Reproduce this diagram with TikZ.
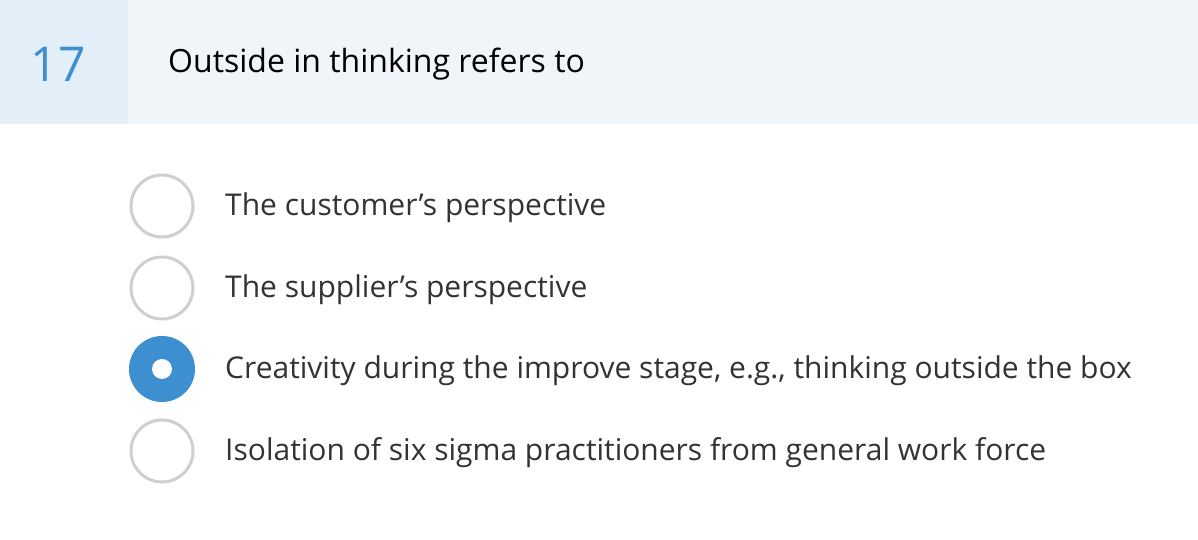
\documentclass[tikz,border=0pt]{standalone}
\usepackage{fontspec}
\setmainfont{Open Sans}
\definecolor{hdr}{HTML}{F0F5FA}
\definecolor{numbg}{HTML}{E2EEF8}
\definecolor{blue}{HTML}{3D8FD0}
\definecolor{ring}{HTML}{CFCFCF}
\definecolor{txt}{HTML}{333333}
\newcommand{\apos}{{\char"27}}
\begin{document}
\begin{tikzpicture}[x=1pt,y=1pt,
  opt/.style={circle,draw=ring,line width=3pt,minimum size=62pt,inner sep=0pt},
  sel/.style={circle,fill=blue,minimum size=66pt,inner sep=0pt},
  otext/.style={anchor=west,text=txt,font=\fontsize{30}{34}\selectfont,inner sep=0pt}]
\useasboundingbox (0,0) rectangle (1198,540);
\fill[white] (0,0) rectangle (1198,540);
\fill[hdr] (0,416) rectangle (1198,540);
\fill[numbg] (0,416) rectangle (128,540);
\node (num) at (58,476) {\fontsize{48}{52}\selectfont\color{blue}17};
\node[anchor=west,inner sep=0pt] (q) at (168,476) {\fontsize{32}{36}\selectfont Outside in thinking refers to};
\node[opt] (c1) at (162,334) {};
\node[opt] (c2) at (162,252) {};
\node[sel] (c3) at (162,171) {};
\node[circle,fill=white,minimum size=20pt,inner sep=0pt] (d3) at (c3) {};
\node[opt] (c4) at (162,89) {};
\node[otext] (t1) at (225,332) {The customer\apos s perspective};
\node[otext] (t2) at (225,250) {The supplier\apos s perspective};
\node[otext] (t3) at (225,169) {Creativity during the improve stage, e.g., thinking outside the box};
\node[otext] (t4) at (225,87) {Isolation of six sigma practitioners from general work force};
\end{tikzpicture}
\end{document}
